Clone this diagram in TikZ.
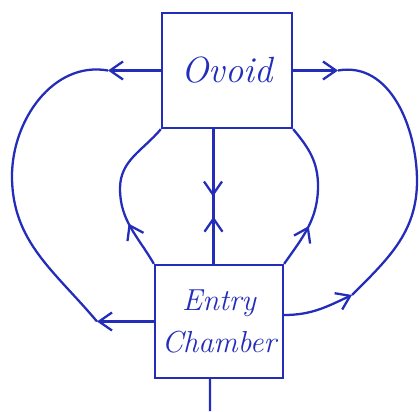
\documentclass[tikz,border=0pt]{standalone}
\usepackage{tikz}
\usetikzlibrary{arrows.meta, decorations.markings}
\definecolor{ink}{RGB}{35,45,185}

\begin{document}
\begin{tikzpicture}[
	>={Straight Barb[length=2.6mm, width=3.6mm]},
	inkline/.style={draw=ink, line width=1.3pt},
	chamber/.style={inkline, minimum width=2.6cm, minimum height=2.3cm, text=ink, align=center, font=\itshape\huge},
	midarrow/.style={postaction={decorate}, decoration={markings, mark=at position #1 with {\arrow{>}}}}
	]
	\useasboundingbox (0,0) rectangle (8.4,8.22);
	
	% Камеры
	\node[chamber] (ovoid) at (4.54,6.81) {Ovoid};
	\node[chamber, minimum width=2.56cm, minimum height=2.26cm, font=\itshape\LARGE] (entry) at (4.38,1.79) {Entry\\[2pt]Chamber};
	
	% Свободные концы стрелок
	\coordinate (lo) at (2.16,6.81);
	\coordinate (li) at (1.94,1.79);
	\coordinate (ro) at (6.76,6.81);
	\coordinate (ri) at (7.04,2.32);
	\coordinate (feed) at (4.2,0);
	
	% Наружные петли
	\draw[inkline, ->] (ovoid.west) -- (lo);
	\draw[inkline, ->] (entry.west) -- (li);
	\draw[inkline] (lo) to[out=170, in=90] (0.24,4.7) to[out=-90, in=130] (li);
	\draw[inkline, ->] (ovoid.east) -- (ro);
	\draw[inkline, ->] ([yshift=1.3mm]entry.east) to[out=0, in=205] (ri);
	\draw[inkline] (ro) to[out=10, in=90] (8.34,4.6) to[out=-90, in=45] (ri);
	
	% Боковые дуги между камерами
	\draw[inkline, midarrow=0.3] (entry.north west) to[out=120, in=-90] (2.4,4.45) to[out=90, in=-130] (ovoid.south west);
	\draw[inkline, midarrow=0.3] (entry.north east) to[out=55, in=-90] (6.36,4.5) to[out=90, in=-50] (ovoid.south east);
	
	% Средние линии
	\draw[inkline, midarrow=0.5] ([xshift=-2.8mm]ovoid.south) -- ([xshift=-2.8mm]ovoid.south |- entry.north);
	\draw[inkline, midarrow=0.35] ([xshift=-1.1mm]entry.north) -- ([xshift=-1.1mm]entry.north |- ovoid.south);
	
	% Вход снизу
	\draw[inkline] ([xshift=-1.8mm]entry.south) -- (feed);
\end{tikzpicture}
\end{document}
